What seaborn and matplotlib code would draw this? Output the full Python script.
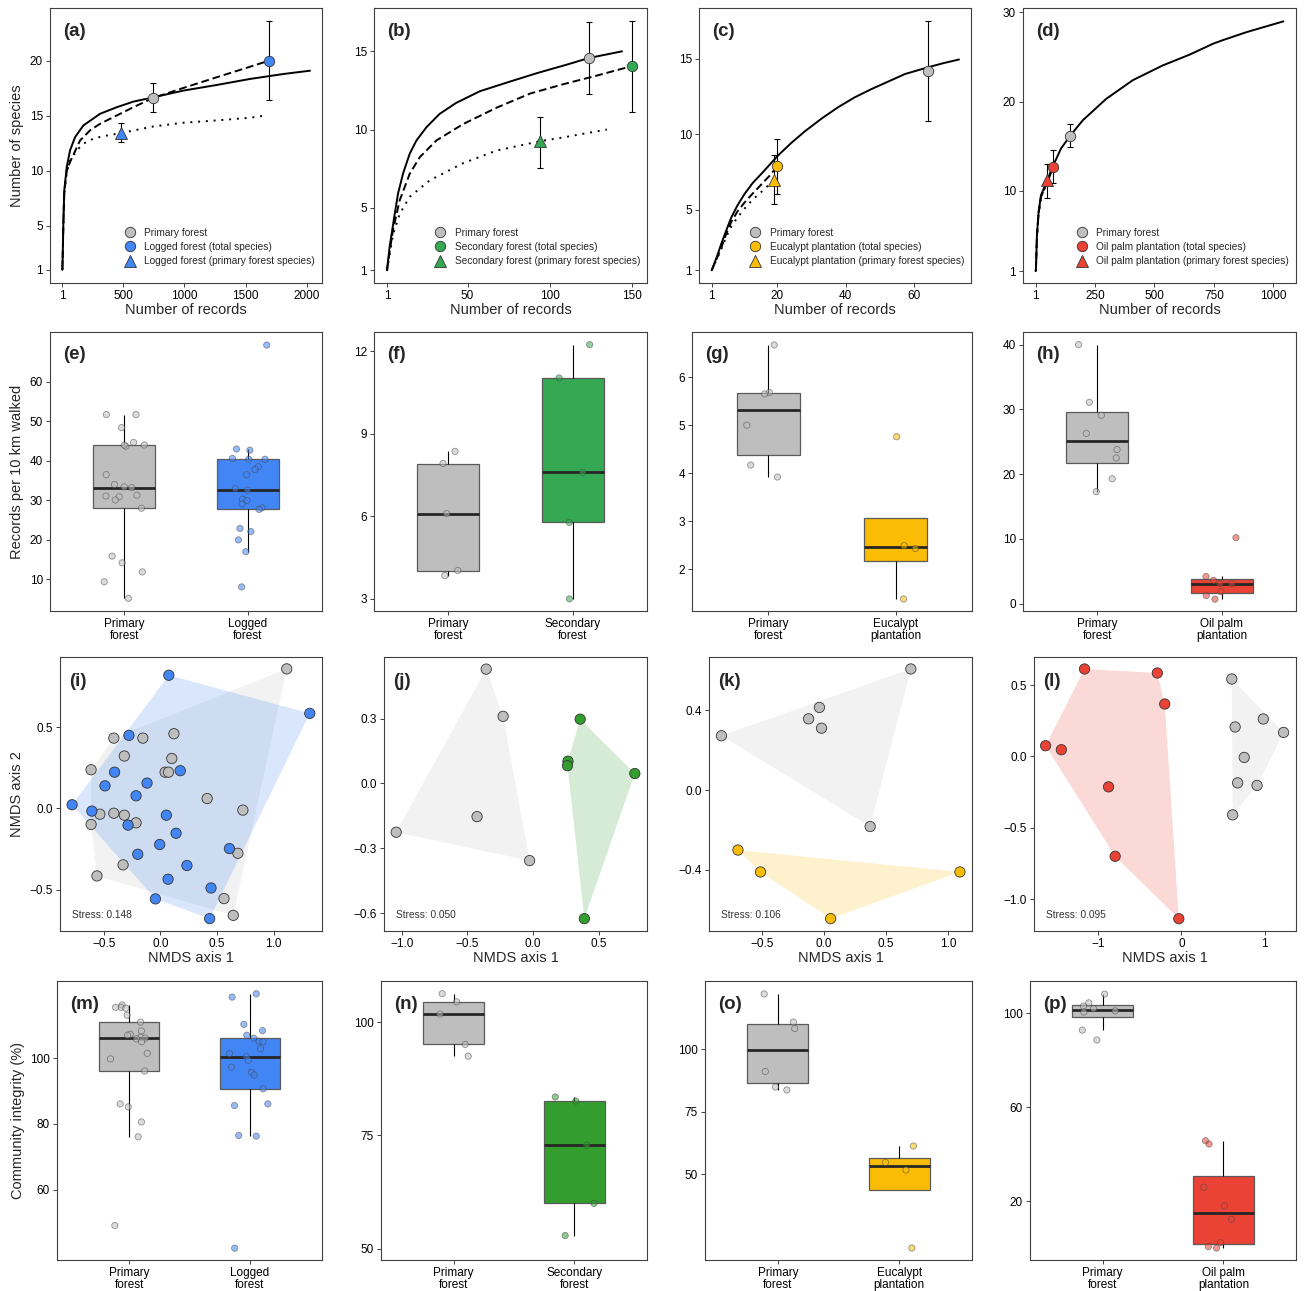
import numpy as np
import pandas as pd
import matplotlib
matplotlib.use('Agg')
import matplotlib.pyplot as plt
import seaborn as sns

sns.set_style('ticks')
plt.rcParams['font.family'] = ['Liberation Sans', 'DejaVu Sans']

GREY = '#BEBEBE'
BLUE = '#4285F4'
GREEN = '#34A853'
GREEN2 = '#339E2E'
YELLOW = '#FBBC05'
RED = '#EA4335'

# ---------------- row 1: rarefaction curves ----------------
a_pf_x = [1, 4, 9, 17, 37, 64, 105, 173, 309, 446, 582, 745, 990, 1263, 1536, 1809, 2027]
a_pf_y = [1, 2.2, 5.2, 8.24, 10.35, 11.86, 13.06, 14.12, 15.18, 15.78, 16.29, 16.68, 17.29, 17.8,
          18.35, 18.8, 19.1]
a_tot_x = [1, 4, 9, 17, 37, 64, 146, 227, 309, 446, 582, 745, 990, 1263, 1536, 1688]
a_tot_y = [1, 2.2, 5.1, 8.1, 10.0, 10.8, 12.76, 13.67, 14.27, 15.03, 15.78, 16.63, 17.53, 18.5,
           19.46, 20.0]
a_sub_x = [1, 4, 9, 17, 37, 64, 91, 132, 173, 254, 336, 481, 745, 990, 1263, 1536, 1645]
a_sub_y = [1, 2.2, 5.1, 8.0, 9.9, 10.9, 11.4, 12.0, 12.47, 12.92, 13.15, 13.43, 14.03, 14.37,
           14.58, 14.82, 15.0]
a_pts_x = [745, 1688, 481]
a_pts_y = [16.65, 20.0, 13.43]
a_pts_lo = [15.3, 16.4, 12.6]
a_pts_hi = [18.0, 23.6, 14.3]

b_pf_x = [1, 2.6, 5.7, 7.7, 10.8, 14.8, 18.9, 25, 33, 43, 57.5, 73.8, 92, 112, 123.6, 143.9]
b_pf_y = [1, 2.5, 4.6, 5.9, 7.2, 8.45, 9.3, 10.15, 11.0, 11.7, 12.45, 13.0, 13.6, 14.2, 14.57, 15.0]
b_tot_x = [1, 2.6, 4.7, 8.7, 14.8, 20.9, 31, 47.3, 67.7, 88, 108.3, 128.6, 150]
b_tot_y = [1, 2.2, 3.6, 5.47, 7.17, 8.23, 9.3, 10.35, 11.4, 12.3, 12.9, 13.45, 14.06]
b_sub_x = [1, 2.6, 4.7, 8.7, 14.8, 27, 47.3, 67.7, 94.3, 108.3, 134.7]
b_sub_y = [1, 2.0, 3.3, 4.6, 5.7, 6.75, 7.85, 8.66, 9.26, 9.5, 10.0]
b_pts_x = [123.6, 150, 94.3]
b_pts_y = [14.57, 14.06, 9.26]
b_pts_lo = [12.3, 11.1, 7.55]
b_pts_hi = [16.9, 16.96, 10.8]

c_pf_x = [1, 2.5, 3.8, 5, 6.7, 8.5, 10.6, 13, 15.5, 20.3, 24, 28.1, 33, 37.8, 42.6, 47.5, 52.4,
          57.3, 64.1, 68.5, 73]
c_pf_y = [1, 1.9, 2.76, 3.5, 4.5, 5.3, 6.07, 6.8, 7.4, 8.6, 9.4, 10.2, 11.05, 11.8, 12.45, 13.0,
          13.5, 14.0, 14.45, 14.72, 14.96]
c_tot_x = [1, 2.5, 3.8, 5.2, 6.7, 8.5, 10.6, 13, 15.5, 18, 20.1]
c_tot_y = [1, 1.8, 2.5, 3.4, 4.2, 4.9, 5.5, 6.1, 6.7, 7.3, 7.9]
c_sub_x = [1, 2.5, 3.8, 5.2, 6.7, 8.5, 10.6, 13, 15.5, 19.2]
c_sub_y = [1, 1.75, 2.4, 3.2, 3.9, 4.5, 5.1, 5.7, 6.2, 7.0]
c_pts_x = [63.9, 20.1, 19.2]
c_pts_y = [14.18, 7.9, 7.0]
c_pts_lo = [10.9, 6.07, 5.37]
c_pts_hi = [17.5, 9.7, 8.65]

d_pf_x = [1, 2.3, 6.5, 13.6, 23.5, 44.5, 72.6, 107.6, 147, 199, 297, 409, 536, 648, 747, 788,
          888, 965, 1042]
d_pf_y = [1, 1.1, 5.0, 7.65, 9.5, 10.8, 12.7, 14.74, 16.2, 17.9, 20.3, 22.4, 24.07, 25.27, 26.5,
          26.9, 27.8, 28.4, 29.0]
d_tot_x = [1, 2.3, 6.5, 13.6, 23.5, 44.5, 75.5]
d_tot_y = [1, 1.1, 4.9, 7.5, 9.3, 10.6, 12.7]
d_sub_x = [1, 2.3, 6.5, 13.6, 23.5, 48.6]
d_sub_y = [1, 1.1, 4.8, 7.4, 9.2, 11.2]
d_pts_x = [147, 75.5, 48.6]
d_pts_y = [16.2, 12.7, 11.2]
d_pts_lo = [14.93, 10.82, 9.14]
d_pts_hi = [17.54, 14.55, 12.98]

# ---------------- row 2: records per 10 km walked ----------------
e_pf = [51.7, 51.7, 48.4, 44.65, 44.0, 43.7, 44.0, 36.5, 34.0, 33.4, 33.2, 31.3, 30.9, 31.1, 30.1, 28.0,
        15.9, 14.2, 11.9, 9.4, 5.2]
e_lf = [69.3, 43.0, 42.7, 40.4, 40.6, 40.4, 38.5, 37.8, 36.5, 33.0, 32.6, 30.3, 30.0, 29.1, 28.1, 27.7,
        22.9, 22.1, 20.0, 17.0, 8.1]
f_pf = [8.36, 7.92, 6.1, 4.03, 3.85]
f_sf = [12.24, 11.03, 7.6, 5.78, 3.0]
g_pf = [6.67, 5.68, 5.65, 5.0, 4.17, 3.92]
g_ep = [4.76, 2.49, 2.43, 1.38]
h_pf = [40.0, 31.1, 29.1, 26.3, 23.8, 22.5, 19.3, 17.3]
h_op = [10.2, 4.2, 3.6, 3.1, 3.1, 1.85, 1.24, 0.7]

# ---------------- row 3: NMDS ordinations ----------------
i_pf_x = [1.117, -0.413, -0.156, 0.119, -0.32, 0.10, -0.614, 0.041, 0.071, 0.413, 0.729, -0.536, -0.413,
          -0.32, -0.614, -0.216, 0.685, -0.331, -0.562, 0.562, 0.644]
i_pf_y = [0.857, 0.432, 0.432, 0.459, 0.322, 0.307, 0.238, 0.223, 0.223, 0.061, -0.01, -0.035, -0.029,
          -0.041, -0.098, -0.088, -0.275, -0.346, -0.414, -0.553, -0.656]
i_lf_x = [0.074, 1.321, -0.279, -0.406, 0.175, -0.119, -0.491, -0.216, -0.782, -0.607, 0.052, -0.287,
          0.138, -0.007, 0.61, -0.201, 0.234, 0.067, 0.447, -0.045, 0.435]
i_lf_y = [0.818, 0.584, 0.449, 0.223, 0.232, 0.156, 0.139, 0.078, 0.023, -0.016, -0.041, -0.102,
          -0.152, -0.221, -0.246, -0.281, -0.350, -0.434, -0.488, -0.555, -0.676]
j_pf_x = [-0.357, -0.228, -0.427, -1.044, -0.026]
j_pf_y = [0.528, 0.310, -0.153, -0.225, -0.356]
j_sf_x = [0.36, 0.267, 0.263, 0.777, 0.392]
j_sf_y = [0.297, 0.103, 0.082, 0.046, -0.624]
k_pf_x = [0.698, -0.037, -0.124, -0.02, -0.825, 0.371]
k_pf_y = [0.608, 0.415, 0.358, 0.311, 0.273, -0.182]
k_ep_x = [-0.692, -0.511, 1.093, 0.053]
k_ep_y = [-0.30, -0.41, -0.41, -0.644]
l_pf_x = [0.605, 0.983, 0.645, 1.226, 0.754, 0.675, 0.908, 0.615]
l_pf_y = [0.542, 0.262, 0.206, 0.168, -0.007, -0.185, -0.203, -0.409]
l_op_x = [-1.161, -0.288, -0.199, -1.628, -1.439, -0.873, -0.794, -0.03]
l_op_y = [0.612, 0.584, 0.367, 0.075, 0.047, -0.213, -0.699, -1.136]
stress = ['0.148', '0.050', '0.106', '0.095']

# ---------------- row 4: community integrity (%) ----------------
m_pf = [116.2, 115.5, 115.5, 115.2, 113.1, 111.0, 108.3, 107.3, 107.0, 106.4, 106.1, 105.9, 105.0,
        101.5, 99.8, 96.1, 86.1, 85.2, 80.6, 76.1, 49.1]
m_lf = [119.6, 118.6, 110.3, 108.4, 107.0, 106.1, 105.2, 105.0, 102.9, 101.4, 100.5, 99.3, 97.3,
        95.7, 94.9, 90.7, 86.1, 85.6, 76.5, 76.3, 42.2]
n_pf = [106.3, 104.5, 101.8, 95.1, 92.5]
n_sf = [83.5, 82.6, 72.8, 60.0, 52.9]
o_pf = [122.1, 110.9, 108.3, 91.1, 84.9, 83.7]
o_ep = [61.3, 54.7, 51.7, 20.5]
p_pf = [108.2, 104.5, 103.1, 102.0, 101.1, 100.6, 92.9, 88.7]
p_op = [45.8, 44.4, 26.0, 18.0, 12.3, 2.4, 0.7, 0.1]

cats = [['Primary\nforest', 'Logged\nforest'],
        ['Primary\nforest', 'Secondary\nforest'],
        ['Primary\nforest', 'Eucalypt\nplantation'],
        ['Primary\nforest', 'Oil palm\nplantation']]
habitat_names = ['Logged forest', 'Secondary forest', 'Eucalypt plantation', 'Oil palm plantation']

W, H = 1306, 1291
fig = plt.figure(figsize=(W / 100, H / 100), dpi=100)


def add_ax(l, t, r, b):
    return fig.add_axes([l / W, 1 - b / H, (r - l) / W, (b - t) / H])


def style_axes(ax, letter, lx=0.048, ly=0.913):
    for sp in ax.spines.values():
        sp.set_color('#404040')
        sp.set_linewidth(0.8)
    ax.tick_params(axis='both', labelsize=8.5, length=3, width=0.7, color='#404040',
                   labelcolor='black', pad=2)
    ax.grid(False)
    ax.text(lx, ly, f'({letter})', transform=ax.transAxes, fontsize=13.5, fontweight='bold',
            ha='left', va='center')


def convex_hull(xs, ys):
    pts = sorted(set(zip(xs, ys)))

    def cross(o, a, b):
        return (a[0] - o[0]) * (b[1] - o[1]) - (a[1] - o[1]) * (b[0] - o[0])
    lower, upper = [], []
    for p in pts:
        while len(lower) >= 2 and cross(lower[-2], lower[-1], p) <= 0:
            lower.pop()
        lower.append(p)
    for p in reversed(pts):
        while len(upper) >= 2 and cross(upper[-2], upper[-1], p) <= 0:
            upper.pop()
        upper.append(p)
    hull = lower[:-1] + upper[:-1]
    return [p[0] for p in hull], [p[1] for p in hull]


def rare_panel(ax, curves, pts, color, name, xlim, ylim, xticks, yticks):
    for (cx, cy), ls in zip(curves, ['-', (0, (4, 2)), (0, (1, 3))]):
        ax.plot(cx, cy, color='black', lw=1.4, linestyle=ls, zorder=2,
                solid_joinstyle='round', solid_capstyle='round')
    px, py, plo, phi = pts
    yerr = [np.subtract(py, plo), np.subtract(phi, py)]
    ax.errorbar(px, py, yerr=yerr, fmt='none', ecolor='black', elinewidth=0.8,
                capsize=2.5, capthick=0.8, zorder=3)
    labels = ['Primary forest', f'{name} (total species)', f'{name} (primary forest species)']
    fills = [GREY, color, color]
    marks = ['o', 'o', '^']
    sizes = [7.5, 7.5, 8.5]
    for k in range(3):
        ax.plot(px[k], py[k], marker=marks[k], ms=sizes[k], mfc=fills[k], mec='#333333', mew=0.6,
                ls='none', label=labels[k], zorder=4)
    ax.legend(loc='lower right', bbox_to_anchor=(1.0, 0.035), frameon=False, fontsize=7.3,
              handlelength=1.0, handletextpad=0.9, labelspacing=0.42, borderaxespad=0.3,
              markerscale=1.0)
    ax.set_xlim(*xlim)
    ax.set_ylim(*ylim)
    ax.set_xticks(xticks)
    ax.set_yticks(yticks)
    ax.set_xlabel('Number of records', fontsize=10.5, labelpad=1)


def box_panel(ax, pf_vals, ot_vals, labels, color, ylim, yticks):
    df = pd.DataFrame({'habitat': [labels[0]] * len(pf_vals) + [labels[1]] * len(ot_vals),
                       'value': list(pf_vals) + list(ot_vals)})
    pal = {labels[0]: GREY, labels[1]: color}
    sns.boxplot(data=df, x='habitat', y='value', hue='habitat', order=labels, hue_order=labels,
                palette=pal, width=0.5, saturation=1, showfliers=False, showcaps=False,
                linecolor='#5a5a5a', linewidth=0.9,
                medianprops=dict(color='#262626', linewidth=2),
                whiskerprops=dict(color='#000000', linewidth=0.8),
                legend=False, ax=ax)
    sns.stripplot(data=df, x='habitat', y='value', hue='habitat', order=labels, hue_order=labels,
                  palette=pal, jitter=0.17, size=4.5, alpha=0.55, edgecolor='#444444',
                  linewidth=0.6, legend=False, ax=ax, zorder=3)
    ax.set_xlim(-0.6, 1.6)
    ax.set_ylim(*ylim)
    ax.set_yticks(yticks)
    ax.set_xlabel('')
    ax.set_ylabel('')
    ax.tick_params(axis='x', labelsize=8.5)
    for t in ax.get_xticklabels():
        t.set_linespacing(1.0)


def nmds_panel(ax, pfx, pfy, otx, oty, color, st, xlim, ylim, xticks, yticks):
    for xs, ys, c in [(pfx, pfy, GREY), (otx, oty, color)]:
        hx, hy = convex_hull(xs, ys)
        ax.fill(hx, hy, color=c, alpha=0.2, lw=0, zorder=1)
    df = pd.DataFrame({'x': list(pfx) + list(otx), 'y': list(pfy) + list(oty),
                       'habitat': ['pf'] * len(pfx) + ['ot'] * len(otx)})
    sns.scatterplot(data=df, x='x', y='y', hue='habitat', palette={'pf': GREY, 'ot': color},
                    s=55, edgecolor='#333333', linewidth=0.6, legend=False, ax=ax, zorder=3)
    ax.text(0.046, 0.058, f'Stress: {st}', transform=ax.transAxes, fontsize=7.3,
            color='#333333', ha='left', va='center')
    ax.set_xlim(*xlim)
    ax.set_ylim(*ylim)
    ax.set_xticks(xticks)
    ax.set_yticks(yticks)
    ax.set_xlabel('NMDS axis 1', fontsize=10.5, labelpad=1)
    ax.set_ylabel('')


np.random.seed(7)

# ---- row 1
cols = [(50, 322), (374, 647), (699, 971), (1023, 1296)]
row1 = [
    ('a', [(a_pf_x, a_pf_y), (a_tot_x, a_tot_y), (a_sub_x, a_sub_y)],
     (a_pts_x, a_pts_y, a_pts_lo, a_pts_hi), BLUE, (-100, 2125), (-0.2, 24.8),
     [1, 500, 1000, 1500, 2000], [1, 5, 10, 15, 20]),
    ('b', [(b_pf_x, b_pf_y), (b_tot_x, b_tot_y), (b_sub_x, b_sub_y)],
     (b_pts_x, b_pts_y, b_pts_lo, b_pts_hi), GREEN, (-6.9, 159.1), (0.19, 17.77),
     [1, 50, 100, 150], [1, 5, 10, 15]),
    ('c', [(c_pf_x, c_pf_y), (c_tot_x, c_tot_y), (c_sub_x, c_sub_y)],
     (c_pts_x, c_pts_y, c_pts_lo, c_pts_hi), YELLOW, (-2.7, 76.5), (0.16, 18.37),
     [1, 20, 40, 60], [1, 5, 10, 15]),
    ('d', [(d_pf_x, d_pf_y), (d_tot_x, d_tot_y), (d_sub_x, d_sub_y)],
     (d_pts_x, d_pts_y, d_pts_lo, d_pts_hi), RED, (-52, 1095), (-0.34, 30.5),
     [1, 250, 500, 750, 1000], [1, 10, 20, 30]),
]
for k, (letter, curves, pts, colr, xl, yl, xt, yt) in enumerate(row1):
    ax = add_ax(cols[k][0], 8, cols[k][1], 283)
    rare_panel(ax, curves, pts, colr, habitat_names[k], xl, yl, xt, yt)
    style_axes(ax, letter)
    if k == 0:
        ax.set_ylabel('Number of species', fontsize=10.5)

# ---- row 2
cols2 = [(50, 322), (374, 647), (692, 972), (1023, 1296)]
row2 = [('e', e_pf, e_lf, BLUE, (2.0, 72.6), [10, 20, 30, 40, 50, 60]),
        ('f', f_pf, f_sf, GREEN, (2.56, 12.7), [3, 6, 9, 12]),
        ('g', g_pf, g_ep, YELLOW, (1.13, 6.94), [2, 3, 4, 5, 6]),
        ('h', h_pf, h_op, RED, (-1.13, 41.96), [0, 10, 20, 30, 40])]
for k, (letter, v1, v2, colr, yl, yt) in enumerate(row2):
    ax = add_ax(cols2[k][0], 332, cols2[k][1], 611)
    box_panel(ax, v1, v2, cats[k], colr, yl, yt)
    style_axes(ax, letter, ly=0.918)
    if k == 0:
        ax.set_ylabel('Records per 10 km walked', fontsize=10.5)

# ---- row 3
cols3 = [(60, 322), (384, 647), (709, 972), (1034, 1296)]
row3 = [('i', i_pf_x, i_pf_y, i_lf_x, i_lf_y, BLUE, (-0.889, 1.429), (-0.752, 0.93),
         [-0.5, 0.0, 0.5, 1.0], [-0.5, 0.0, 0.5]),
        ('j', j_pf_x, j_pf_y, j_sf_x, j_sf_y, GREEN2, (-1.137, 0.87), (-0.681, 0.584),
         [-1.0, -0.5, 0.0, 0.5], [-0.6, -0.3, 0.0, 0.3]),
        ('k', k_pf_x, k_pf_y, k_ep_x, k_ep_y, YELLOW, (-0.925, 1.19), (-0.706, 0.668),
         [-0.5, 0.0, 0.5, 1.0], [-0.4, 0.0, 0.4]),
        ('l', l_pf_x, l_pf_y, l_op_x, l_op_y, RED, (-1.767, 1.375), (-1.222, 0.696),
         [-1, 0, 1], [-1.0, -0.5, 0.0, 0.5])]
for k, (letter, px, py, ox, oy, colr, xl, yl, xt, yt) in enumerate(row3):
    ax = add_ax(cols3[k][0], 657, cols3[k][1], 931)
    nmds_panel(ax, px, py, ox, oy, colr, stress[k], xl, yl, xt, yt)
    style_axes(ax, letter, lx=0.035, ly=0.909)
    if k == 0:
        ax.set_ylabel('NMDS axis 2', fontsize=10.5)

# ---- row 4
cols4 = [(57, 322), (381, 647), (705, 972), (1030, 1296)]
row4 = [('m', m_pf, m_lf, BLUE, (38.6, 123.5), [60, 80, 100]),
        ('n', n_pf, n_sf, GREEN2, (47.5, 109.1), [50, 75, 100]),
        ('o', o_pf, o_ep, YELLOW, (15.7, 127.3), [50, 75, 100]),
        ('p', p_pf, p_op, RED, (-5.0, 113.8), [20, 60, 100])]
for k, (letter, v1, v2, colr, yl, yt) in enumerate(row4):
    ax = add_ax(cols4[k][0], 981, cols4[k][1], 1260)
    box_panel(ax, v1, v2, cats[k], colr, yl, yt)
    style_axes(ax, letter, lx=0.05, ly=0.914)
    if k == 0:
        ax.set_ylabel('Community integrity (%)', fontsize=10.5)

fig.savefig('out.png', dpi=100, facecolor='white')
